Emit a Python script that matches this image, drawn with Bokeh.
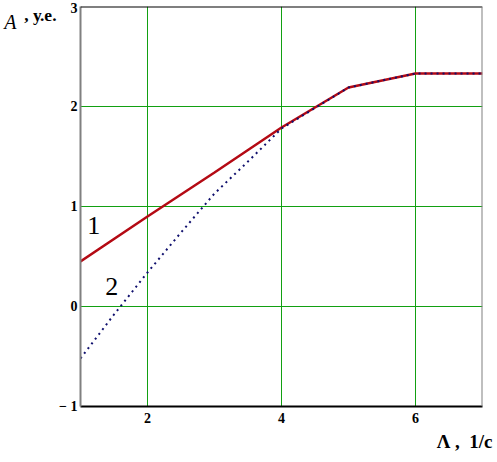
from bokeh.plotting import figure
from bokeh.models import Span, Label, FixedTicker, Range1d, LinearAxis, Title
from bokeh.embed import file_html
from bokeh.resources import INLINE

# Data
x1 = [1, 2, 3, 4, 5, 6, 7]
y1 = [0.45, 0.90, 1.34, 1.79, 2.19, 2.33, 2.33]

x2 = [1, 1.5, 2, 2.5, 3, 3.5, 4, 5, 6, 7]
y2 = [-0.52, -0.08, 0.34, 0.74, 1.13, 1.45, 1.78, 2.19, 2.33, 2.33]

x_ticks = [2, 4, 6]
y_ticks = [-1, 0, 1, 2, 3]
X_MIN, X_MAX = 1, 7
Y_MIN, Y_MAX = -1, 3

SERIF = "Liberation Serif"

p = figure(width=495, height=462, output_backend="svg", toolbar_location=None,
           x_range=Range1d(X_MIN, X_MAX), y_range=Range1d(Y_MIN, Y_MAX),
           min_border_left=80, min_border_right=13, min_border_top=6,
           min_border_bottom=56)
p.outline_line_color = None
p.background_fill_color = "white"

# grid
p.xgrid.ticker = FixedTicker(ticks=x_ticks)
p.ygrid.ticker = FixedTicker(ticks=y_ticks)
p.xgrid.grid_line_color = "#12a012"
p.ygrid.grid_line_color = "#12a012"
p.xgrid.grid_line_width = 1
p.ygrid.grid_line_width = 1

# axes
p.xaxis.ticker = FixedTicker(ticks=x_ticks)
p.yaxis.ticker = FixedTicker(ticks=y_ticks)
p.yaxis.major_label_overrides = {-1: "\u2212 1"}
for ax in (p.xaxis[0], p.yaxis[0]):
    ax.major_tick_in = 0
    ax.major_tick_out = 0
    ax.minor_tick_in = 0
    ax.minor_tick_out = 0
    ax.major_label_text_font = SERIF
    ax.major_label_text_font_style = "bold"
    ax.major_label_text_font_size = "14px"
    ax.major_label_text_color = "black"
p.xaxis.axis_line_color = "black"
p.xaxis.axis_line_width = 2
p.xaxis.major_label_standoff = 6
p.yaxis.axis_line_color = "#808080"
p.yaxis.axis_line_width = 2
p.yaxis.major_label_standoff = 3


def title_axis(text, style, size):
    ax = LinearAxis(ticker=FixedTicker(ticks=[]))
    ax.axis_line_color = None
    ax.major_tick_in = 0
    ax.major_tick_out = 0
    ax.minor_tick_in = 0
    ax.minor_tick_out = 0
    ax.major_label_text_font_size = "0px"
    ax.major_label_standoff = 0
    ax.axis_label = text
    ax.axis_label_text_font = SERIF
    ax.axis_label_text_font_style = style
    ax.axis_label_text_font_size = size
    ax.axis_label_text_color = "black"
    ax.axis_label_standoff = 0
    ax.axis_label_orientation = "horizontal"
    return ax


# y title at the top-left: trailing empty lines lift it to the top of the axis
p.add_layout(title_axis("\u00a0, у.е." + "\n" * 16, "bold", "17.5px"), "left")
p.add_layout(title_axis("A" + "\n" * 14, "italic", "20px"), "left")

# x title under the tick labels at the right end
p.add_layout(Title(text="\u039b ,\u00a0\u00a01/с", align="right", text_font=SERIF,
                   text_font_style="bold", text_font_size="19px",
                   text_color="black", standoff=6, offset=-10), "below")

# frame borders (top black, right gray)
p.add_layout(Span(location=Y_MAX, dimension="width", line_color="black", line_width=2))
p.add_layout(Span(location=X_MAX, dimension="height", line_color="#808080", line_width=2))

# curves
p.line(x1, y1, line_color="#b40a14", line_width=2.5)
p.line(x2, y2, line_color="#10106e", line_width=2, line_dash="2 4")

# curve labels
p.add_layout(Label(x=1.1, y=0.73, text="1", text_font=SERIF, text_font_size="26px",
                   text_color="black"))
p.add_layout(Label(x=1.37, y=0.12, text="2", text_font=SERIF, text_font_size="26px",
                   text_color="black"))

open("out.html", "w").write(file_html(p, INLINE))
